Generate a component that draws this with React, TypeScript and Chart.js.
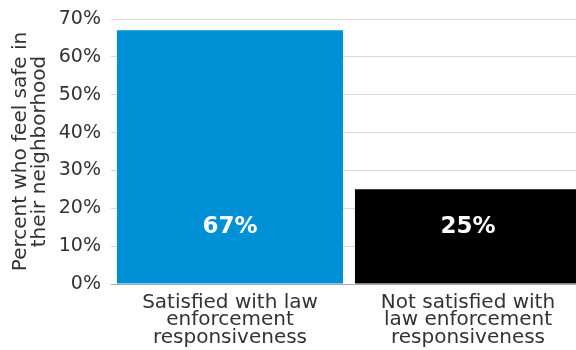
import React, { useEffect, useRef } from "react";
import { Chart, registerables } from "chart.js";

Chart.register(...registerables);

const categories = [
  ["Satisfied with law", "enforcement", "responsiveness"],
  ["Not satisfied with", "law enforcement", "responsiveness"],
];
const values = [67, 25];
const valueLabels = ["67%", "25%"];
const barColors = ["#0090D5", "#000000"];
const labelAnchorValue = 15;
const yTitle = ["Percent who feel safe in", "their neighborhood"];

const FONT = "'DejaVu Sans', sans-serif";

const labelPlugin = {
  id: "barLabels",
  afterDatasetsDraw(chart: any) {
    const { ctx } = chart;
    const meta = chart.getDatasetMeta(0);
    const y = chart.scales.y.getPixelForValue(labelAnchorValue);
    ctx.save();
    ctx.fillStyle = "#ffffff";
    ctx.font = `bold 23px ${FONT}`;
    ctx.textAlign = "center";
    ctx.textBaseline = "middle";
    meta.data.forEach((bar: any, i: number) => {
      ctx.fillText(valueLabels[i], bar.x, y);
    });
    ctx.restore();
  },
};

export default function App() {
  const ref = useRef<HTMLCanvasElement>(null);
  useEffect(() => {
    document.body.style.margin = "0";
    document.body.style.overflow = "hidden";
    const chart = new Chart(ref.current!, {
      type: "bar",
      data: {
        labels: categories,
        datasets: [
          {
            data: values,
            backgroundColor: barColors,
            categoryPercentage: 1,
            barPercentage: 0.95,
          },
        ],
      },
      options: {
        animation: false,
        responsive: false,
        layout: { padding: { top: 0, right: 0, left: 11, bottom: 0 } },
        plugins: { legend: { display: false }, tooltip: { enabled: false } },
        scales: {
          x: {
            grid: { display: false },
            border: { display: true, color: "#aaaaaa", width: 1 },
            ticks: {
              color: "#333333",
              font: { family: FONT, size: 20, lineHeight: 0.87 },
              maxRotation: 0,
              padding: 2,
            },
            afterFit: (s: any) => {
              s.height = 66;
            },
          },
          y: {
            min: 0,
            max: 70,
            ticks: {
              stepSize: 10,
              color: "#333333",
              font: { family: FONT, size: 19 },
              callback: (v: any) => v + "%",
              padding: 10,
            },
            grid: { color: "#d9d9d9", drawTicks: false },
            border: { display: false },
            title: {
              display: true,
              text: yTitle,
              color: "#333333",
              font: { family: FONT, size: 20, lineHeight: 0.95 },
              padding: { top: 0, bottom: 5 },
            },
            afterFit: (s: any) => {
              s.width = 100;
              s.paddingTop = 19;
              s.paddingBottom = 0;
            },
          },
        },
      },
      plugins: [labelPlugin],
    });
    return () => chart.destroy();
  }, []);
  return <canvas ref={ref} width={587} height={350} style={{ display: "block" }} />;
}
